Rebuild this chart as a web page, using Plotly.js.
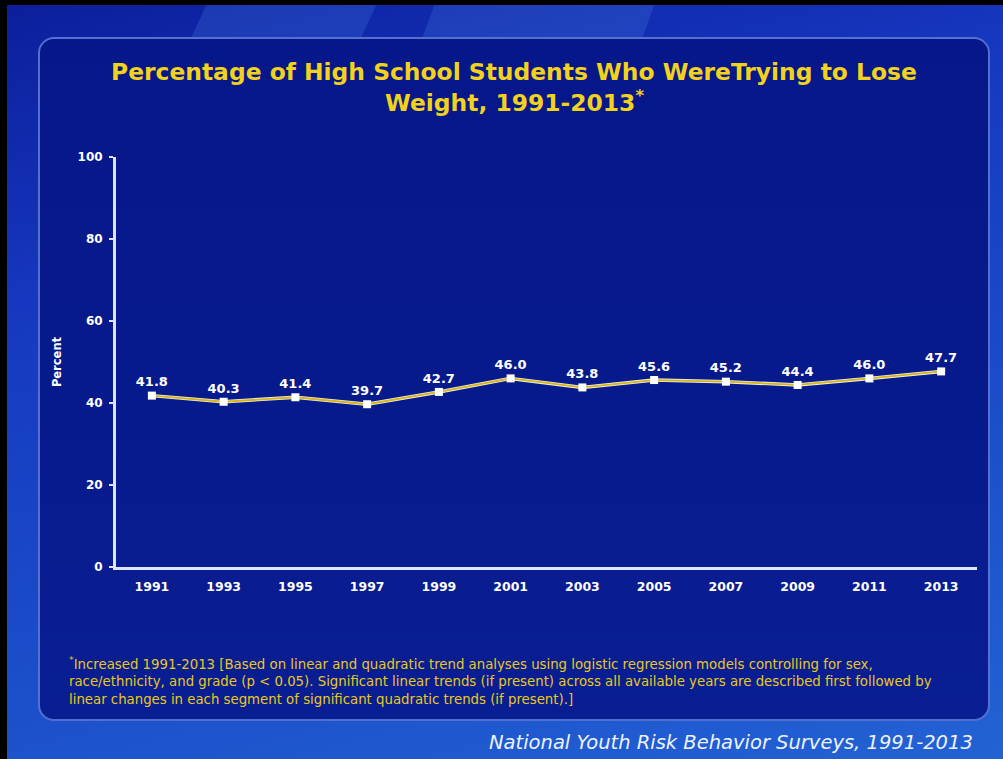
<!DOCTYPE html>
<html>
<head>
<meta charset="utf-8">
<script src="https://cdn.plot.ly/plotly-3.0.1.min.js"></script>
<style>
  html, body { margin: 0; padding: 0; width: 1003px; height: 759px; overflow: hidden; }
  #frame {
    position: absolute; left: 0; top: 0; width: 996px; height: 754px;
    border-left: 7px solid #000; border-top: 5px solid #000;
    background: linear-gradient(165deg, #0c1e9c 0%, #1638c0 30%, #1a4ac8 60%, #2262d4 100%);
    overflow: hidden;
  }
  #band1 { position: absolute; left: 190px; top: -40px; width: 170px; height: 120px; background: rgba(80,140,240,0.22); transform: skewX(-25deg); }
  #band2 { position: absolute; left: 420px; top: -40px; width: 220px; height: 120px; background: rgba(90,150,245,0.2); transform: skewX(-20deg); }
  #panel {
    position: absolute; left: 31px; top: 32px; width: 948px; height: 680px;
    border: 2px solid rgba(110,140,230,0.75); border-radius: 16px;
    background: linear-gradient(180deg, #06178a 0%, #071a8c 50%, #0a1e94 100%);
  }
  #chart { position: absolute; left: 0; top: 0; width: 1003px; height: 759px; }
</style>
</head>
<body>
<div id="frame"><div id="band1"></div><div id="band2"></div><div id="panel"></div></div>
<div id="chart"></div>
<script>
const years = ["1991","1993","1995","1997","1999","2001","2003","2005","2007","2009","2011","2013"];
const percent = [41.8, 40.3, 41.4, 39.7, 42.7, 46.0, 43.8, 45.6, 45.2, 44.4, 46.0, 47.7];
const yTicks = [0, 20, 40, 60, 80, 100];
const titleLines = ["Percentage of High School Students Who WereTrying to Lose", "Weight, 1991-2013<sup>*</sup>"];
const footnoteLines = [
  "<sup>*</sup>Increased 1991-2013 [Based on linear and quadratic trend analyses using logistic regression models controlling for sex,",
  "race/ethnicity, and grade (p < 0.05). Significant linear trends (if present) across all available years are described first followed by",
  "linear changes in each segment of significant quadratic trends (if present).]"
];
const sourceText = "National Youth Risk Behavior Surveys, 1991-2013";

const DJ = "DejaVu Sans, Verdana, sans-serif";
const H = 410, TOP = 157, BOT = 567, L = 116, W = 861;
const py = y => (BOT - y) / H;
const px = x => (x - L) / W;

const traceLine = {
  x: years, y: percent, type: "scatter", mode: "lines",
  line: { color: "#f0f0e0", width: 3.5 }, hoverinfo: "skip", showlegend: false
};
const trace = {
  x: years, y: percent, type: "scatter", mode: "lines+markers+text",
  line: { color: "#d8b418", width: 1.8 },
  marker: { symbol: "square", size: 8, color: "#ffffff" },
  text: percent.map(v => v.toFixed(1)),
  textposition: "top center",
  textfont: { family: DJ, size: 13, color: "#ffffff", weight: "bold" },
  cliponaxis: false, showlegend: false
};

const annotations = [];
titleLines.forEach((t, i) => annotations.push({
  xref: "paper", yref: "paper", x: px(514), y: py(i === 0 ? 72 : 101),
  xanchor: "center", yanchor: "middle", showarrow: false,
  font: { family: DJ, size: 23.4, color: "#f2d21c", weight: "bold" },
  text: t
}));
footnoteLines.forEach((t, i) => annotations.push({
  xref: "paper", yref: "paper", x: px(67), y: py(663 + 18 * i),
  xanchor: "left", yanchor: "middle", align: "left", showarrow: false,
  font: { family: DJ, size: 13.3, color: "#e8c820" },
  text: t
}));
annotations.push({
  xref: "paper", yref: "paper", x: px(975), y: py(742),
  xanchor: "right", yanchor: "middle", showarrow: false,
  font: { family: DJ, size: 19.5, color: "#eef2ff", style: "italic" },
  text: sourceText
});

const layout = {
  width: 1003, height: 759,
  margin: { l: L, r: 1003 - L - W, t: TOP, b: 759 - BOT },
  paper_bgcolor: "rgba(0,0,0,0)", plot_bgcolor: "rgba(0,0,0,0)",
  font: { family: DJ, color: "#ffffff" },
  xaxis: {
    type: "category", range: [-0.5, years.length - 0.5],
    showgrid: false, zeroline: false,
    showline: true, linecolor: "#dde4ff", linewidth: 3,
    ticks: "", tickfont: { family: DJ, size: 12.5, color: "#ffffff", weight: "bold" },
    ticklabelstandoff: 6
  },
  yaxis: {
    range: [0, 100], tickvals: yTicks, showgrid: false, zeroline: false,
    showline: true, linecolor: "#dde4ff", linewidth: 3,
    ticks: "outside", ticklen: 4, tickwidth: 2, tickcolor: "#dde4ff",
    ticklabelstandoff: 4,
    tickfont: { family: DJ, size: 12, color: "#ffffff", weight: "bold" },
    title: { text: "<b>Percent</b>", font: { family: DJ, size: 11.5, color: "#ffffff" }, standoff: 14 }
  },
  annotations: annotations
};

Plotly.newPlot("chart", [traceLine, trace], layout, { displayModeBar: false, staticPlot: true });
</script>
</body>
</html>
